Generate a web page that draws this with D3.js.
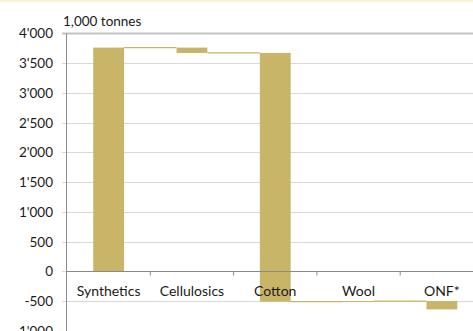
<!DOCTYPE html>
<html>
<head>
<meta charset="utf-8">
<script src="https://cdn.jsdelivr.net/npm/d3@7"></script>
<style>
  html, body { margin: 0; padding: 0; background: #fff; }
  svg { display: block; }
  text { font-family: Lato, "Open Sans", sans-serif; fill: #1a1a1a; }
</style>
</head>
<body>
<svg id="chart" width="473" height="331"></svg>
<script>
// Fibre categories and their change (1,000 tonnes) in waterfall order
const categories = ["Synthetics", "Cellulosics", "Cotton", "Wool", "ONF*"];
const changes = [3760, -90, -4180, 10, -140];
const yTicks = [-1000, -500, 0, 500, 1000, 1500, 2000, 2500, 3000, 3500, 4000];
const unitLabel = "1,000 tonnes";

const W = 473, H = 331;
const margin = { left: 67 };
const plotRight = 67 + 5 * 83.3;

const svg = d3.select("#chart");

// faint top border
svg.append("rect").attr("x", 0).attr("y", 0).attr("width", W).attr("height", 2)
  .attr("fill", "#fbf3d6");

const y = d3.scaleLinear().domain([-1000, 4000]).range([330.8, 33.3]);
const x = d3.scaleBand().domain(categories).range([margin.left, plotRight])
  .paddingInner(0.63).paddingOuter(0.315);

// running totals
let run = 0;
const steps = categories.map((c, i) => {
  const start = run;
  run += changes[i];
  return { cat: c, start, end: run };
});

const fmt = v => {
  const s = d3.format(",")(Math.abs(v)).replace(/,/g, "'");
  return (v < 0 ? "-" : "") + s;
};

// gridlines with left tick marks
svg.append("g").selectAll("line").data(yTicks).join("line")
  .attr("x1", 62).attr("x2", W)
  .attr("y1", d => Math.round(y(d)) + 0.5).attr("y2", d => Math.round(y(d)) + 0.5)
  .attr("stroke", d => d === 4000 ? "#c4c4c4" : "#d9d9d9")
  .attr("stroke-width", d => d === 4000 ? 2 : 1);

// y-axis line
svg.append("line").attr("x1", 66.5).attr("x2", 66.5)
  .attr("y1", y(4000)).attr("y2", H)
  .attr("stroke", "#8a8a8a").attr("stroke-width", 1);

// y tick labels
svg.append("g").selectAll("text").data(yTicks).join("text")
  .attr("x", 53).attr("y", d => y(d) + 5)
  .attr("text-anchor", "end").attr("font-size", 13.5)
  .text(fmt);

// bars
const gold = "#c9b567";
svg.append("g").selectAll("rect").data(steps).join("rect")
  .attr("x", d => x(d.cat))
  .attr("width", x.bandwidth())
  .attr("y", d => y(Math.max(d.start, d.end)))
  .attr("height", d => Math.max(1, Math.abs(y(d.start) - y(d.end))))
  .attr("fill", gold);

// connectors between consecutive bars
svg.append("g").selectAll("line").data(steps.slice(0, -1)).join("line")
  .attr("x1", d => x(d.cat) + x.bandwidth())
  .attr("x2", (d, i) => x(categories[i + 1]))
  .attr("y1", d => y(d.end)).attr("y2", d => y(d.end))
  .attr("stroke", gold).attr("stroke-width", 1.3);

// zero baseline with category ticks
svg.append("line").attr("x1", 66.5).attr("x2", W)
  .attr("y1", Math.round(y(0)) + 0.5).attr("y2", Math.round(y(0)) + 0.5)
  .attr("stroke", "#8a8a8a");
const step = x.step();
svg.append("g").selectAll("line").data(d3.range(1, 5)).join("line")
  .attr("x1", i => margin.left + i * step).attr("x2", i => margin.left + i * step)
  .attr("y1", Math.round(y(0)) + 0.5).attr("y2", Math.round(y(0)) + 4.5)
  .attr("stroke", "#8a8a8a");

// category labels
svg.append("g").selectAll("text").data(categories).join("text")
  .attr("x", d => x(d) + x.bandwidth() / 2)
  .attr("y", 295.5)
  .attr("text-anchor", "middle").attr("font-size", 14)
  .text(d => d);

// unit label
svg.append("text").attr("x", 63).attr("y", 26).attr("font-size", 13.5)
  .text(unitLabel);
</script>
</body>
</html>
